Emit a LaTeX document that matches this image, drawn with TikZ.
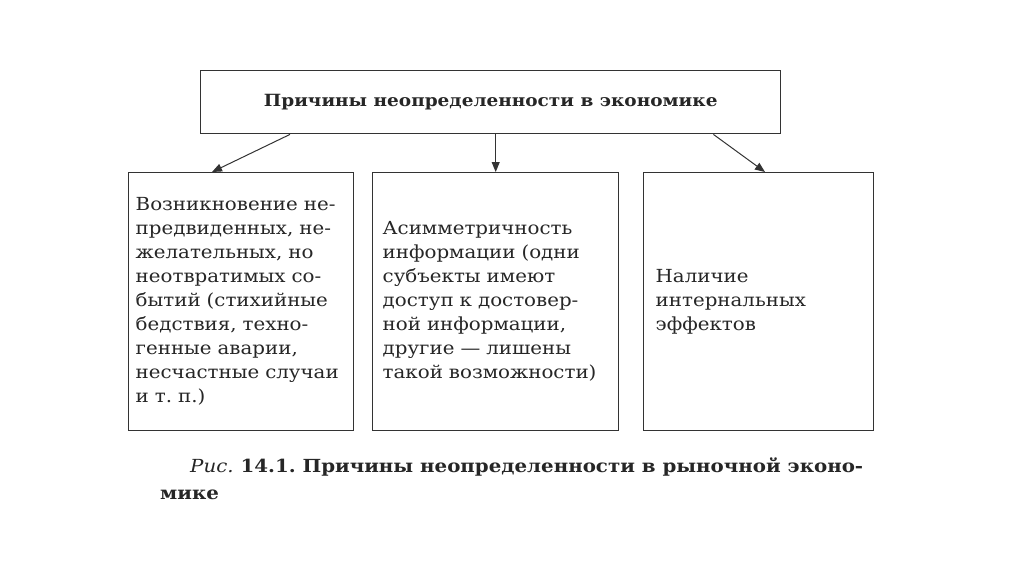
\documentclass[tikz,border=0pt]{standalone}
\usepackage{fontspec}
\setmainfont{DejaVu Serif}[FakeStretch=1.1]
\usetikzlibrary{arrows.meta}
\definecolor{ink}{gray}{0.2}
\definecolor{txt}{gray}{0.15}
\frenchspacing
\begin{document}
\begin{tikzpicture}[x=1pt,y=-1pt,
  box/.style={draw=ink, line width=1.4pt, rectangle, anchor=north west, align=left, text=txt, font=\fontsize{18}{24}\selectfont},
  arr/.style={draw=ink, line width=1pt, -{Triangle[length=10pt,width=8pt]}}]
\useasboundingbox (0,0) rectangle (1024,574);
\node[box, minimum width=580pt, minimum height=63pt, align=center, font=\fontsize{16.8}{18}\selectfont\bfseries] (top) at (200,70) {Причины неопределенности в экономике};
\node[box, minimum width=225pt, minimum height=258pt, text width=211pt, inner sep=7pt] (b1) at (128,172) {Возникновение не-\\предвиденных, не-\\желательных, но\\неотвратимых со-\\бытий (стихийные\\бедствия, техно-\\генные аварии,\\несчастные случаи\\и т. п.)};
\node[box, minimum width=246pt, minimum height=258pt, text width=226pt, inner sep=10pt] (b2) at (372,172) {Асимметричность\\информации (одни\\субъекты имеют\\доступ к достовер-\\ной информации,\\другие — лишены\\такой возможности)};
\node[box, minimum width=230pt, minimum height=258pt, text width=206pt, inner sep=12pt] (b3) at (643,172) {Наличие\\интернальных\\эффектов};
\draw[arr] ([xshift=90pt]top.south west) -- ([xshift=84pt]b1.north west);
\draw[arr] ([xshift=5pt]top.south) -- (b2.north);
\draw[arr] ([xshift=-68pt]top.south east) -- ([xshift=122pt]b3.north west);
\node[anchor=north west, align=left, text=txt, font=\fontsize{18}{27}\selectfont\bfseries, inner sep=0pt] (cap) at (160,458) {\hspace*{30pt}{\mdseries\itshape Рис.} 14.1. Причины неопределенности в рыночной эконо-\\мике};
\end{tikzpicture}
\end{document}
